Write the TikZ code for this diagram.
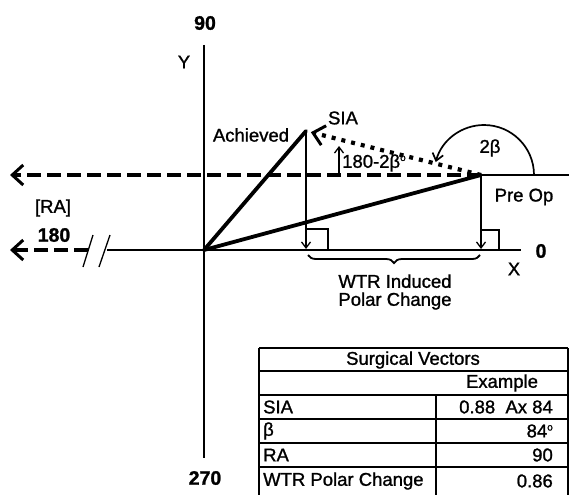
\documentclass[tikz,border=0pt]{standalone}
\usepackage{fontspec}
\setmainfont{Liberation Sans}[FakeBold=1.2]
\usetikzlibrary{arrows.meta,decorations.pathreplacing}
\begin{document}
\begin{tikzpicture}[x=1pt,y=-1pt,
  lbl/.style={inner sep=0pt, font=\fontsize{18.5}{18}\selectfont},
  num/.style={inner sep=0pt, font=\fontsize{19.5}{22}\selectfont\bfseries},
  tbl/.style={inner sep=0pt, font=\fontsize{18.5}{20}\selectfont},
  axisline/.style={line width=2.6pt},
  vec/.style={line width=3.8pt, line cap=round},
  thinline/.style={line width=1.2pt},
  gridline/.style={line width=1.2pt},
  dashline/.style={line width=3.5pt, dash pattern=on 14pt off 6pt},
  dotline/.style={line width=4.2pt, dash pattern=on 4pt off 6pt},
  bigbarb/.tip={Straight Barb[length=11pt,width=20pt,line width=3pt]},
  smallbarb/.tip={Straight Barb[length=6pt,width=9pt,line width=1.3pt]},
]
\useasboundingbox (0,0) rectangle (569,495);

% key points
\coordinate (O) at (204,250);
\coordinate (A) at (306,131);
\coordinate (P) at (481,175);
\coordinate (Ytop) at (204,45);
\coordinate (Ybot) at (204,458);
\coordinate (Xend) at (521,250);
\coordinate (Xbrk) at (107,250);
\coordinate (Lbrk) at (88,250);
\coordinate (Ltip) at (10,250);
\coordinate (Dtip) at (10,175);
\coordinate (Rend) at (569,175);
\coordinate (Afoot) at (306,249);
\coordinate (Pfoot) at (481,249);
\coordinate (U1) at (339,175);
\coordinate (U2) at (339,146);
\coordinate (ArcStart) at (534,175);
\coordinate (Bl) at (308,255);
\coordinate (Br) at (480,255);

% axes
\draw[axisline] (Ytop) -- (Ybot);
\draw[axisline] (Xbrk) -- (Xend);
\draw[dashline, -{bigbarb}] (Lbrk) -- (Ltip);
\draw[line width=1.3pt] (83,267) -- (93,235);
\draw[line width=1.3pt] (99,267) -- (110,235);

% vectors
\draw[vec] (O) -- (A);
\draw[vec] (O) -- (P);
\draw[dashline, -{bigbarb}] (P) -- (Dtip);
\draw[thinline] (P) -- (Rend);
\draw[dotline, shorten >=5pt, -{Straight Barb[length=11pt,width=20pt,line width=3pt]}] (P) -- (A);

% projections
\draw[thinline, -{smallbarb}] (A) -- (Afoot);
\draw[thinline, -{smallbarb}] (P) -- (Pfoot);
\draw[thinline] (306,229) -- (328,229) -- (328,250);
\draw[thinline] (481,230) -- (499,230) -- (499,250);
\draw[thinline, -{smallbarb}] (U1) -- (U2);

% 2beta arc
\draw[line width=1.7pt, -{Straight Barb[length=7pt,width=11pt,line width=1.7pt]}] (ArcStart) arc[start angle=0, end angle=-165, radius=50];

% brace
\draw[line width=1.8pt, decorate, decoration={brace, mirror, amplitude=8pt}] (Bl) -- (Br);

% labels
\node[num] (n90) at (205,23) {90};
\node[lbl] (nY) at (184,62) {Y};
\node[lbl] (nAch) at (251,135) {Achieved};
\node[lbl] (nSIA) at (343,118) {SIA};
\node[lbl, anchor=west] (nAng) at (342,163) {180-2β\raisebox{0.7ex}{\fontsize{10}{10}\selectfont o}};
\node[lbl] (n2b) at (490,148) {2β};
\node[lbl] (nPre) at (524,197) {Pre Op};
\node[lbl] (nRA) at (53,208) {[RA]};
\node[num] (n180) at (54,235) {180};
\node[num] (n0) at (541,251) {0};
\node[lbl] (nX) at (514,269) {X};
\node[lbl, align=center] (nW) at (395,292) {WTR Induced\\Polar Change};
\node[num] (n270) at (205,478) {270};

% table
\draw[gridline] (259,348) -- (568,348);
\draw[gridline] (259,371) -- (568,371);
\draw[gridline] (259,395) -- (568,395);
\draw[gridline] (259,419) -- (568,419);
\draw[gridline] (259,443) -- (568,443);
\draw[gridline] (259,467) -- (568,467);
\draw[gridline] (259,348) -- (259,495);
\draw[gridline] (568,348) -- (568,495);
\draw[gridline] (436,395) -- (436,495);

\node[tbl] (tH) at (413,360) {Surgical Vectors};
\node[tbl] (tE) at (502,383) {Example};
\node[tbl, anchor=west] (t1l) at (263,407) {SIA};
\node[tbl, anchor=east] (t1r) at (553,407) {0.88\ \ Ax 84};
\node[tbl, anchor=west] (t2l) at (263,431) {β};
\node[tbl, anchor=east] (t2r) at (553,431) {84\raisebox{0.7ex}{\fontsize{10}{10}\selectfont o}};
\node[tbl, anchor=west] (t3l) at (263,455) {RA};
\node[tbl, anchor=east] (t3r) at (553,455) {90};
\node[tbl, anchor=west] (t4l) at (263,481) {WTR Polar Change};
\node[tbl, anchor=east] (t4r) at (553,481) {0.86};
\end{tikzpicture}
\end{document}
